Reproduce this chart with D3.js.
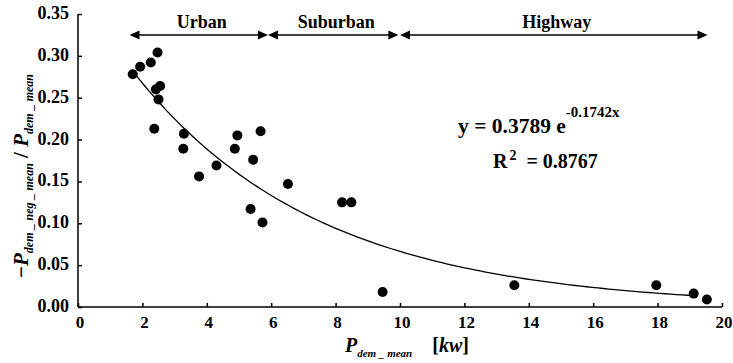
<!DOCTYPE html>
<html>
<head>
<meta charset="utf-8">
<script src="https://cdn.jsdelivr.net/npm/d3@7"></script>
<style>
  body { margin: 0; background: #fff; }
</style>
</head>
<body>
<div id="chartContainer"></div>
<script>
// measured points: P_dem_mean [kw] vs -P_dem_neg_mean / P_dem_mean
const pDemMean = [1.70, 1.93, 2.26, 2.47, 2.55, 2.42, 2.50, 2.37, 3.29, 3.27, 3.76, 4.30, 4.87, 4.95,
  5.44, 5.67, 5.36, 5.73, 6.52, 8.20, 8.49, 9.46, 13.55, 17.96, 19.12, 19.53]
const ratio = [0.278, 0.287, 0.292, 0.304, 0.264, 0.260, 0.248, 0.213, 0.207, 0.189, 0.156, 0.169, 0.189, 0.205,
  0.176, 0.210, 0.117, 0.101, 0.147, 0.125, 0.125, 0.018, 0.026, 0.026, 0.016, 0.009]

// driving cycle regions (x range of each arrow)
const regionNames = ['Urban', 'Suburban', 'Highway']
const regionFrom = [1.6, 5.9, 10.0]
const regionTo = [5.9, 9.95, 19.55]

// exponential fit shown on the chart
const fitA = 0.3789
const fitB = -0.1742
const fitR2 = 0.8767
const fitFrom = 1.7
const fitTo = 19.1

const xTicks = [0, 2, 4, 6, 8, 10, 12, 14, 16, 18, 20]
const yTicks = [0, 0.05, 0.10, 0.15, 0.20, 0.25, 0.30, 0.35]

const width = 733
const height = 363
const margin = { top: 14, right: 11, bottom: 56, left: 78 }
const serif = '"Liberation Serif", monospace'

const svg = d3.select('#chartContainer').append('svg')
  .attr('width', width)
  .attr('height', height)
  .attr('xmlns', 'http://www.w3.org/2000/svg')

const x = d3.scaleLinear().domain([0, 20]).range([margin.left, width - margin.right])
const y = d3.scaleLinear().domain([0, 0.35]).range([height - margin.bottom, margin.top])

// axes, ticks point inward
const xAxis = svg.append('g')
  .attr('transform', 'translate(0,' + y(0) + ')')
  .call(d3.axisTop(x).tickValues(xTicks).tickSize(4).tickFormat(''))
xAxis.select('.domain').attr('d', 'M' + x(0) + ',0H' + x(20))
xAxis.selectAll('line, path').attr('stroke', '#000').attr('stroke-width', 1.5)

const yAxis = svg.append('g')
  .attr('transform', 'translate(' + x(0) + ',0)')
  .call(d3.axisRight(y).tickValues(yTicks).tickSize(4).tickFormat(''))
yAxis.select('.domain').attr('d', 'M0,' + y(0.35) + 'V' + y(0))
yAxis.selectAll('line, path').attr('stroke', '#000').attr('stroke-width', 1.5)

svg.append('g').selectAll('text')
  .data(xTicks)
  .enter().append('text')
  .attr('x', d => x(d) + 2)
  .attr('y', y(0) + 21)
  .attr('text-anchor', 'middle')
  .style('font-size', '17px')
  .text(d => d)

svg.append('g').selectAll('text')
  .data(yTicks)
  .enter().append('text')
  .attr('x', x(0) - 9)
  .attr('y', d => y(d) + 5)
  .attr('text-anchor', 'end')
  .style('font-size', '18px')
  .text(d => d3.format('.2f')(d))

// fit curve
const fitPoints = d3.range(0, 101).map(i => {
  const xv = fitFrom + (fitTo - fitFrom) * i / 100
  return [xv, fitA * Math.exp(fitB * xv)]
})
svg.append('path')
  .datum(fitPoints)
  .attr('fill', 'none')
  .attr('stroke', '#000')
  .attr('stroke-width', 1.3)
  .attr('d', d3.line().x(d => x(d[0])).y(d => y(d[1])))

// points
svg.append('g').selectAll('circle')
  .data(pDemMean.map((d, i) => [d, ratio[i]]))
  .enter().append('circle')
  .attr('cx', d => x(d[0]))
  .attr('cy', d => y(d[1]))
  .attr('r', 5)
  .attr('fill', '#000')

// region arrows
const arrowY = 35
const regions = svg.append('g')
regionNames.forEach((name, i) => {
  const x1 = x(regionFrom[i])
  const x2 = x(regionTo[i])
  regions.append('line')
    .attr('x1', x1 + 8).attr('x2', x2 - 8)
    .attr('y1', arrowY).attr('y2', arrowY)
    .attr('stroke', '#000').attr('stroke-width', 1.5)
  regions.append('path')
    .attr('d', 'M' + x1 + ',' + arrowY + 'l10,-4.5v9z')
    .attr('fill', '#000')
  regions.append('path')
    .attr('d', 'M' + x2 + ',' + arrowY + 'l-10,-4.5v9z')
    .attr('fill', '#000')
  regions.append('text')
    .attr('x', (x1 + x2) / 2 + 3)
    .attr('y', arrowY - 7)
    .attr('text-anchor', 'middle')
    .style('font-size', '18px')
    .text(name)
})

// equation and R squared (superscripts as tspans)
const eq = svg.append('text')
  .attr('x', 458).attr('y', 133)
  .style('font-size', '21.5px')
eq.append('tspan').text('y = ' + fitA + ' e')
eq.append('tspan').style('font-size', '15px').attr('dy', -16).text(fitB + 'x')

const r2 = svg.append('text')
  .attr('x', 493).attr('y', 168)
  .style('font-size', '20px')
r2.append('tspan').text('R')
r2.append('tspan').style('font-size', '14px').attr('dx', 2).attr('dy', -8).text('2')
r2.append('tspan').attr('dx', 10).attr('dy', 8).text('= ' + fitR2)

// axis titles
const xTitle = svg.append('text')
  .attr('x', 345).attr('y', 352)
xTitle.append('tspan').style('font-size', '20px').style('font-style', 'italic').text('P')
xTitle.append('tspan').style('font-size', '11px').style('font-style', 'italic').attr('dy', 5).text('dem _ mean')
xTitle.append('tspan').style('font-size', '20px').attr('dy', -5).attr('dx', 20).text('[')
xTitle.append('tspan').style('font-size', '20px').style('font-style', 'italic').text('kw')
xTitle.append('tspan').style('font-size', '20px').text(']')

const yTitle = svg.append('text')
  .attr('transform', 'translate(28,' + 176 + ') rotate(-90)')
  .attr('text-anchor', 'middle')
yTitle.append('tspan').style('font-size', '21px').text('\u2212')
yTitle.append('tspan').style('font-size', '21px').style('font-style', 'italic').text('P')
yTitle.append('tspan').style('font-size', '12px').style('font-style', 'italic').attr('dy', 5).text('dem _ neg _ mean')
yTitle.append('tspan').style('font-size', '21px').attr('dy', -5).text(' / ')
yTitle.append('tspan').style('font-size', '21px').style('font-style', 'italic').text('P')
yTitle.append('tspan').style('font-size', '12px').style('font-style', 'italic').attr('dy', 5).text('dem _ mean')

// same serif face for every label
svg.selectAll('text')
  .style('font-family', serif)
  .style('font-weight', 'bold')
  .attr('fill', '#000')
</script>
</body>
</html>
